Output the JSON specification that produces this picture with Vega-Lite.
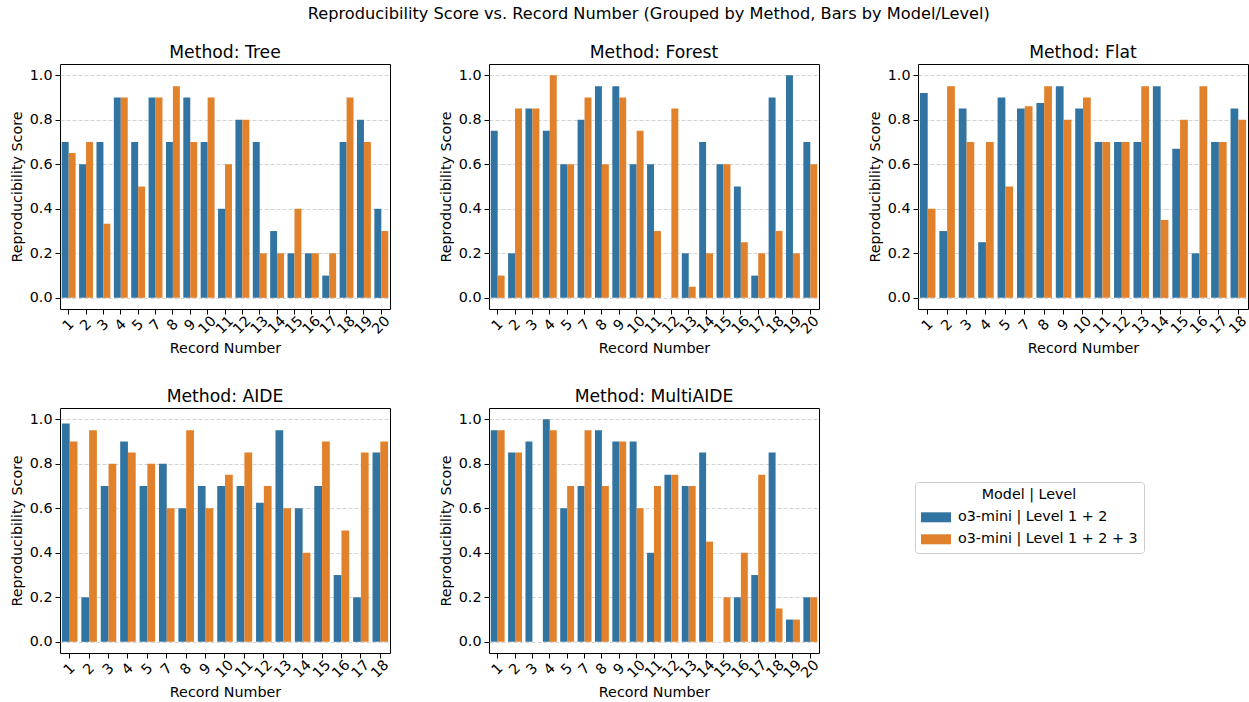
{
  "$schema": "https://vega.github.io/schema/vega-lite/v6.json",
  "padding": {"top": 6, "left": 9, "right": 0, "bottom": 0},
  "title": {"text": "Reproducibility Score vs. Record Number (Grouped by Method, Bars by Model/Level)", "fontSize": 16.2, "offset": 21, "anchor": "middle", "dx": 19},
  "data": {"values": [
    {"m":"Tree","r":1,"l":"o3-mini | Level 1 + 2","s":0.7},{"m":"Tree","r":1,"l":"o3-mini | Level 1 + 2 + 3","s":0.65},
    {"m":"Tree","r":2,"l":"o3-mini | Level 1 + 2","s":0.6},{"m":"Tree","r":2,"l":"o3-mini | Level 1 + 2 + 3","s":0.7},
    {"m":"Tree","r":3,"l":"o3-mini | Level 1 + 2","s":0.7},{"m":"Tree","r":3,"l":"o3-mini | Level 1 + 2 + 3","s":0.333},
    {"m":"Tree","r":4,"l":"o3-mini | Level 1 + 2","s":0.9},{"m":"Tree","r":4,"l":"o3-mini | Level 1 + 2 + 3","s":0.9},
    {"m":"Tree","r":5,"l":"o3-mini | Level 1 + 2","s":0.7},{"m":"Tree","r":5,"l":"o3-mini | Level 1 + 2 + 3","s":0.5},
    {"m":"Tree","r":7,"l":"o3-mini | Level 1 + 2","s":0.9},{"m":"Tree","r":7,"l":"o3-mini | Level 1 + 2 + 3","s":0.9},
    {"m":"Tree","r":8,"l":"o3-mini | Level 1 + 2","s":0.7},{"m":"Tree","r":8,"l":"o3-mini | Level 1 + 2 + 3","s":0.95},
    {"m":"Tree","r":9,"l":"o3-mini | Level 1 + 2","s":0.9},{"m":"Tree","r":9,"l":"o3-mini | Level 1 + 2 + 3","s":0.7},
    {"m":"Tree","r":10,"l":"o3-mini | Level 1 + 2","s":0.7},{"m":"Tree","r":10,"l":"o3-mini | Level 1 + 2 + 3","s":0.9},
    {"m":"Tree","r":11,"l":"o3-mini | Level 1 + 2","s":0.4},{"m":"Tree","r":11,"l":"o3-mini | Level 1 + 2 + 3","s":0.6},
    {"m":"Tree","r":12,"l":"o3-mini | Level 1 + 2","s":0.8},{"m":"Tree","r":12,"l":"o3-mini | Level 1 + 2 + 3","s":0.8},
    {"m":"Tree","r":13,"l":"o3-mini | Level 1 + 2","s":0.7},{"m":"Tree","r":13,"l":"o3-mini | Level 1 + 2 + 3","s":0.2},
    {"m":"Tree","r":14,"l":"o3-mini | Level 1 + 2","s":0.3},{"m":"Tree","r":14,"l":"o3-mini | Level 1 + 2 + 3","s":0.2},
    {"m":"Tree","r":15,"l":"o3-mini | Level 1 + 2","s":0.2},{"m":"Tree","r":15,"l":"o3-mini | Level 1 + 2 + 3","s":0.4},
    {"m":"Tree","r":16,"l":"o3-mini | Level 1 + 2","s":0.2},{"m":"Tree","r":16,"l":"o3-mini | Level 1 + 2 + 3","s":0.2},
    {"m":"Tree","r":17,"l":"o3-mini | Level 1 + 2","s":0.1},{"m":"Tree","r":17,"l":"o3-mini | Level 1 + 2 + 3","s":0.2},
    {"m":"Tree","r":18,"l":"o3-mini | Level 1 + 2","s":0.7},{"m":"Tree","r":18,"l":"o3-mini | Level 1 + 2 + 3","s":0.9},
    {"m":"Tree","r":19,"l":"o3-mini | Level 1 + 2","s":0.8},{"m":"Tree","r":19,"l":"o3-mini | Level 1 + 2 + 3","s":0.7},
    {"m":"Tree","r":20,"l":"o3-mini | Level 1 + 2","s":0.4},{"m":"Tree","r":20,"l":"o3-mini | Level 1 + 2 + 3","s":0.3},

    {"m":"Forest","r":1,"l":"o3-mini | Level 1 + 2","s":0.75},{"m":"Forest","r":1,"l":"o3-mini | Level 1 + 2 + 3","s":0.1},
    {"m":"Forest","r":2,"l":"o3-mini | Level 1 + 2","s":0.2},{"m":"Forest","r":2,"l":"o3-mini | Level 1 + 2 + 3","s":0.85},
    {"m":"Forest","r":3,"l":"o3-mini | Level 1 + 2","s":0.85},{"m":"Forest","r":3,"l":"o3-mini | Level 1 + 2 + 3","s":0.85},
    {"m":"Forest","r":4,"l":"o3-mini | Level 1 + 2","s":0.75},{"m":"Forest","r":4,"l":"o3-mini | Level 1 + 2 + 3","s":1.0},
    {"m":"Forest","r":5,"l":"o3-mini | Level 1 + 2","s":0.6},{"m":"Forest","r":5,"l":"o3-mini | Level 1 + 2 + 3","s":0.6},
    {"m":"Forest","r":7,"l":"o3-mini | Level 1 + 2","s":0.8},{"m":"Forest","r":7,"l":"o3-mini | Level 1 + 2 + 3","s":0.9},
    {"m":"Forest","r":8,"l":"o3-mini | Level 1 + 2","s":0.95},{"m":"Forest","r":8,"l":"o3-mini | Level 1 + 2 + 3","s":0.6},
    {"m":"Forest","r":9,"l":"o3-mini | Level 1 + 2","s":0.95},{"m":"Forest","r":9,"l":"o3-mini | Level 1 + 2 + 3","s":0.9},
    {"m":"Forest","r":10,"l":"o3-mini | Level 1 + 2","s":0.6},{"m":"Forest","r":10,"l":"o3-mini | Level 1 + 2 + 3","s":0.75},
    {"m":"Forest","r":11,"l":"o3-mini | Level 1 + 2","s":0.6},{"m":"Forest","r":11,"l":"o3-mini | Level 1 + 2 + 3","s":0.3},
    {"m":"Forest","r":12,"l":"o3-mini | Level 1 + 2","s":0.0},{"m":"Forest","r":12,"l":"o3-mini | Level 1 + 2 + 3","s":0.85},
    {"m":"Forest","r":13,"l":"o3-mini | Level 1 + 2","s":0.2},{"m":"Forest","r":13,"l":"o3-mini | Level 1 + 2 + 3","s":0.05},
    {"m":"Forest","r":14,"l":"o3-mini | Level 1 + 2","s":0.7},{"m":"Forest","r":14,"l":"o3-mini | Level 1 + 2 + 3","s":0.2},
    {"m":"Forest","r":15,"l":"o3-mini | Level 1 + 2","s":0.6},{"m":"Forest","r":15,"l":"o3-mini | Level 1 + 2 + 3","s":0.6},
    {"m":"Forest","r":16,"l":"o3-mini | Level 1 + 2","s":0.5},{"m":"Forest","r":16,"l":"o3-mini | Level 1 + 2 + 3","s":0.25},
    {"m":"Forest","r":17,"l":"o3-mini | Level 1 + 2","s":0.1},{"m":"Forest","r":17,"l":"o3-mini | Level 1 + 2 + 3","s":0.2},
    {"m":"Forest","r":18,"l":"o3-mini | Level 1 + 2","s":0.9},{"m":"Forest","r":18,"l":"o3-mini | Level 1 + 2 + 3","s":0.3},
    {"m":"Forest","r":19,"l":"o3-mini | Level 1 + 2","s":1.0},{"m":"Forest","r":19,"l":"o3-mini | Level 1 + 2 + 3","s":0.2},
    {"m":"Forest","r":20,"l":"o3-mini | Level 1 + 2","s":0.7},{"m":"Forest","r":20,"l":"o3-mini | Level 1 + 2 + 3","s":0.6},

    {"m":"Flat","r":1,"l":"o3-mini | Level 1 + 2","s":0.92},{"m":"Flat","r":1,"l":"o3-mini | Level 1 + 2 + 3","s":0.4},
    {"m":"Flat","r":2,"l":"o3-mini | Level 1 + 2","s":0.3},{"m":"Flat","r":2,"l":"o3-mini | Level 1 + 2 + 3","s":0.95},
    {"m":"Flat","r":3,"l":"o3-mini | Level 1 + 2","s":0.85},{"m":"Flat","r":3,"l":"o3-mini | Level 1 + 2 + 3","s":0.7},
    {"m":"Flat","r":4,"l":"o3-mini | Level 1 + 2","s":0.25},{"m":"Flat","r":4,"l":"o3-mini | Level 1 + 2 + 3","s":0.7},
    {"m":"Flat","r":5,"l":"o3-mini | Level 1 + 2","s":0.9},{"m":"Flat","r":5,"l":"o3-mini | Level 1 + 2 + 3","s":0.5},
    {"m":"Flat","r":7,"l":"o3-mini | Level 1 + 2","s":0.85},{"m":"Flat","r":7,"l":"o3-mini | Level 1 + 2 + 3","s":0.86},
    {"m":"Flat","r":8,"l":"o3-mini | Level 1 + 2","s":0.875},{"m":"Flat","r":8,"l":"o3-mini | Level 1 + 2 + 3","s":0.95},
    {"m":"Flat","r":9,"l":"o3-mini | Level 1 + 2","s":0.95},{"m":"Flat","r":9,"l":"o3-mini | Level 1 + 2 + 3","s":0.8},
    {"m":"Flat","r":10,"l":"o3-mini | Level 1 + 2","s":0.85},{"m":"Flat","r":10,"l":"o3-mini | Level 1 + 2 + 3","s":0.9},
    {"m":"Flat","r":11,"l":"o3-mini | Level 1 + 2","s":0.7},{"m":"Flat","r":11,"l":"o3-mini | Level 1 + 2 + 3","s":0.7},
    {"m":"Flat","r":12,"l":"o3-mini | Level 1 + 2","s":0.7},{"m":"Flat","r":12,"l":"o3-mini | Level 1 + 2 + 3","s":0.7},
    {"m":"Flat","r":13,"l":"o3-mini | Level 1 + 2","s":0.7},{"m":"Flat","r":13,"l":"o3-mini | Level 1 + 2 + 3","s":0.95},
    {"m":"Flat","r":14,"l":"o3-mini | Level 1 + 2","s":0.95},{"m":"Flat","r":14,"l":"o3-mini | Level 1 + 2 + 3","s":0.35},
    {"m":"Flat","r":15,"l":"o3-mini | Level 1 + 2","s":0.67},{"m":"Flat","r":15,"l":"o3-mini | Level 1 + 2 + 3","s":0.8},
    {"m":"Flat","r":16,"l":"o3-mini | Level 1 + 2","s":0.2},{"m":"Flat","r":16,"l":"o3-mini | Level 1 + 2 + 3","s":0.95},
    {"m":"Flat","r":17,"l":"o3-mini | Level 1 + 2","s":0.7},{"m":"Flat","r":17,"l":"o3-mini | Level 1 + 2 + 3","s":0.7},
    {"m":"Flat","r":18,"l":"o3-mini | Level 1 + 2","s":0.85},{"m":"Flat","r":18,"l":"o3-mini | Level 1 + 2 + 3","s":0.8},

    {"m":"AIDE","r":1,"l":"o3-mini | Level 1 + 2","s":0.98},{"m":"AIDE","r":1,"l":"o3-mini | Level 1 + 2 + 3","s":0.9},
    {"m":"AIDE","r":2,"l":"o3-mini | Level 1 + 2","s":0.2},{"m":"AIDE","r":2,"l":"o3-mini | Level 1 + 2 + 3","s":0.95},
    {"m":"AIDE","r":3,"l":"o3-mini | Level 1 + 2","s":0.7},{"m":"AIDE","r":3,"l":"o3-mini | Level 1 + 2 + 3","s":0.8},
    {"m":"AIDE","r":4,"l":"o3-mini | Level 1 + 2","s":0.9},{"m":"AIDE","r":4,"l":"o3-mini | Level 1 + 2 + 3","s":0.85},
    {"m":"AIDE","r":5,"l":"o3-mini | Level 1 + 2","s":0.7},{"m":"AIDE","r":5,"l":"o3-mini | Level 1 + 2 + 3","s":0.8},
    {"m":"AIDE","r":7,"l":"o3-mini | Level 1 + 2","s":0.8},{"m":"AIDE","r":7,"l":"o3-mini | Level 1 + 2 + 3","s":0.6},
    {"m":"AIDE","r":8,"l":"o3-mini | Level 1 + 2","s":0.6},{"m":"AIDE","r":8,"l":"o3-mini | Level 1 + 2 + 3","s":0.95},
    {"m":"AIDE","r":9,"l":"o3-mini | Level 1 + 2","s":0.7},{"m":"AIDE","r":9,"l":"o3-mini | Level 1 + 2 + 3","s":0.6},
    {"m":"AIDE","r":10,"l":"o3-mini | Level 1 + 2","s":0.7},{"m":"AIDE","r":10,"l":"o3-mini | Level 1 + 2 + 3","s":0.75},
    {"m":"AIDE","r":11,"l":"o3-mini | Level 1 + 2","s":0.7},{"m":"AIDE","r":11,"l":"o3-mini | Level 1 + 2 + 3","s":0.85},
    {"m":"AIDE","r":12,"l":"o3-mini | Level 1 + 2","s":0.625},{"m":"AIDE","r":12,"l":"o3-mini | Level 1 + 2 + 3","s":0.7},
    {"m":"AIDE","r":13,"l":"o3-mini | Level 1 + 2","s":0.95},{"m":"AIDE","r":13,"l":"o3-mini | Level 1 + 2 + 3","s":0.6},
    {"m":"AIDE","r":14,"l":"o3-mini | Level 1 + 2","s":0.6},{"m":"AIDE","r":14,"l":"o3-mini | Level 1 + 2 + 3","s":0.4},
    {"m":"AIDE","r":15,"l":"o3-mini | Level 1 + 2","s":0.7},{"m":"AIDE","r":15,"l":"o3-mini | Level 1 + 2 + 3","s":0.9},
    {"m":"AIDE","r":16,"l":"o3-mini | Level 1 + 2","s":0.3},{"m":"AIDE","r":16,"l":"o3-mini | Level 1 + 2 + 3","s":0.5},
    {"m":"AIDE","r":17,"l":"o3-mini | Level 1 + 2","s":0.2},{"m":"AIDE","r":17,"l":"o3-mini | Level 1 + 2 + 3","s":0.85},
    {"m":"AIDE","r":18,"l":"o3-mini | Level 1 + 2","s":0.85},{"m":"AIDE","r":18,"l":"o3-mini | Level 1 + 2 + 3","s":0.9},

    {"m":"MultiAIDE","r":1,"l":"o3-mini | Level 1 + 2","s":0.95},{"m":"MultiAIDE","r":1,"l":"o3-mini | Level 1 + 2 + 3","s":0.95},
    {"m":"MultiAIDE","r":2,"l":"o3-mini | Level 1 + 2","s":0.85},{"m":"MultiAIDE","r":2,"l":"o3-mini | Level 1 + 2 + 3","s":0.85},
    {"m":"MultiAIDE","r":3,"l":"o3-mini | Level 1 + 2","s":0.9},
    {"m":"MultiAIDE","r":4,"l":"o3-mini | Level 1 + 2","s":1.0},{"m":"MultiAIDE","r":4,"l":"o3-mini | Level 1 + 2 + 3","s":0.95},
    {"m":"MultiAIDE","r":5,"l":"o3-mini | Level 1 + 2","s":0.6},{"m":"MultiAIDE","r":5,"l":"o3-mini | Level 1 + 2 + 3","s":0.7},
    {"m":"MultiAIDE","r":7,"l":"o3-mini | Level 1 + 2","s":0.7},{"m":"MultiAIDE","r":7,"l":"o3-mini | Level 1 + 2 + 3","s":0.95},
    {"m":"MultiAIDE","r":8,"l":"o3-mini | Level 1 + 2","s":0.95},{"m":"MultiAIDE","r":8,"l":"o3-mini | Level 1 + 2 + 3","s":0.7},
    {"m":"MultiAIDE","r":9,"l":"o3-mini | Level 1 + 2","s":0.9},{"m":"MultiAIDE","r":9,"l":"o3-mini | Level 1 + 2 + 3","s":0.9},
    {"m":"MultiAIDE","r":10,"l":"o3-mini | Level 1 + 2","s":0.9},{"m":"MultiAIDE","r":10,"l":"o3-mini | Level 1 + 2 + 3","s":0.6},
    {"m":"MultiAIDE","r":11,"l":"o3-mini | Level 1 + 2","s":0.4},{"m":"MultiAIDE","r":11,"l":"o3-mini | Level 1 + 2 + 3","s":0.7},
    {"m":"MultiAIDE","r":12,"l":"o3-mini | Level 1 + 2","s":0.75},{"m":"MultiAIDE","r":12,"l":"o3-mini | Level 1 + 2 + 3","s":0.75},
    {"m":"MultiAIDE","r":13,"l":"o3-mini | Level 1 + 2","s":0.7},{"m":"MultiAIDE","r":13,"l":"o3-mini | Level 1 + 2 + 3","s":0.7},
    {"m":"MultiAIDE","r":14,"l":"o3-mini | Level 1 + 2","s":0.85},{"m":"MultiAIDE","r":14,"l":"o3-mini | Level 1 + 2 + 3","s":0.45},
    {"m":"MultiAIDE","r":15,"l":"o3-mini | Level 1 + 2","s":0.0},{"m":"MultiAIDE","r":15,"l":"o3-mini | Level 1 + 2 + 3","s":0.2},
    {"m":"MultiAIDE","r":16,"l":"o3-mini | Level 1 + 2","s":0.2},{"m":"MultiAIDE","r":16,"l":"o3-mini | Level 1 + 2 + 3","s":0.4},
    {"m":"MultiAIDE","r":17,"l":"o3-mini | Level 1 + 2","s":0.3},{"m":"MultiAIDE","r":17,"l":"o3-mini | Level 1 + 2 + 3","s":0.75},
    {"m":"MultiAIDE","r":18,"l":"o3-mini | Level 1 + 2","s":0.85},{"m":"MultiAIDE","r":18,"l":"o3-mini | Level 1 + 2 + 3","s":0.15},
    {"m":"MultiAIDE","r":19,"l":"o3-mini | Level 1 + 2","s":0.1},{"m":"MultiAIDE","r":19,"l":"o3-mini | Level 1 + 2 + 3","s":0.1},
    {"m":"MultiAIDE","r":20,"l":"o3-mini | Level 1 + 2","s":0.2},{"m":"MultiAIDE","r":20,"l":"o3-mini | Level 1 + 2 + 3","s":0.2}
  ]},
  "columns": 3,
  "spacing": 99,
  "bounds": "flush",
  "resolve": {"scale": {"x": "independent", "xOffset": "independent"}, "axis": {"x": "independent", "y": "independent"}},
  "concat": [
    {"title": "Method: Tree", "width": 330, "height": 245, "transform": [{"filter": "datum.m === 'Tree'"}], "mark": "bar",
     "encoding": {
       "x": {"field": "r", "type": "ordinal", "title": "Record Number", "scale": {"paddingInner": 0.2, "paddingOuter": 0.1}},
       "xOffset": {"field": "l", "type": "nominal"},
       "y": {"field": "s", "type": "quantitative", "title": "Reproducibility Score", "scale": {"domain": [-0.05, 1.05], "nice": false, "zero": false}, "axis": {"values": [0, 0.2, 0.4, 0.6, 0.8, 1.0], "format": ".1f"}},
       "y2": {"datum": 0},
       "color": {"field": "l", "type": "nominal", "title": "Model | Level", "scale": {"range": ["#3274a1", "#e1812c"]}}
     }},
    {"title": "Method: Forest", "width": 330, "height": 245, "transform": [{"filter": "datum.m === 'Forest'"}], "mark": "bar",
     "encoding": {
       "x": {"field": "r", "type": "ordinal", "title": "Record Number", "scale": {"paddingInner": 0.2, "paddingOuter": 0.1}},
       "xOffset": {"field": "l", "type": "nominal"},
       "y": {"field": "s", "type": "quantitative", "title": "Reproducibility Score", "scale": {"domain": [-0.05, 1.05], "nice": false, "zero": false}, "axis": {"values": [0, 0.2, 0.4, 0.6, 0.8, 1.0], "format": ".1f"}},
       "y2": {"datum": 0},
       "color": {"field": "l", "type": "nominal", "title": "Model | Level", "scale": {"range": ["#3274a1", "#e1812c"]}}
     }},
    {"title": "Method: Flat", "width": 330, "height": 245, "transform": [{"filter": "datum.m === 'Flat'"}], "mark": "bar",
     "encoding": {
       "x": {"field": "r", "type": "ordinal", "title": "Record Number", "scale": {"paddingInner": 0.2, "paddingOuter": 0.1}},
       "xOffset": {"field": "l", "type": "nominal"},
       "y": {"field": "s", "type": "quantitative", "title": "Reproducibility Score", "scale": {"domain": [-0.05, 1.05], "nice": false, "zero": false}, "axis": {"values": [0, 0.2, 0.4, 0.6, 0.8, 1.0], "format": ".1f"}},
       "y2": {"datum": 0},
       "color": {"field": "l", "type": "nominal", "title": "Model | Level", "scale": {"range": ["#3274a1", "#e1812c"]}}
     }},
    {"title": "Method: AIDE", "width": 330, "height": 245, "transform": [{"filter": "datum.m === 'AIDE'"}], "mark": "bar",
     "encoding": {
       "x": {"field": "r", "type": "ordinal", "title": "Record Number", "scale": {"paddingInner": 0.2, "paddingOuter": 0.1}},
       "xOffset": {"field": "l", "type": "nominal"},
       "y": {"field": "s", "type": "quantitative", "title": "Reproducibility Score", "scale": {"domain": [-0.05, 1.05], "nice": false, "zero": false}, "axis": {"values": [0, 0.2, 0.4, 0.6, 0.8, 1.0], "format": ".1f"}},
       "y2": {"datum": 0},
       "color": {"field": "l", "type": "nominal", "title": "Model | Level", "scale": {"range": ["#3274a1", "#e1812c"]}}
     }},
    {"title": "Method: MultiAIDE", "width": 330, "height": 245, "transform": [{"filter": "datum.m === 'MultiAIDE'"}], "mark": "bar",
     "encoding": {
       "x": {"field": "r", "type": "ordinal", "title": "Record Number", "scale": {"paddingInner": 0.2, "paddingOuter": 0.1}},
       "xOffset": {"field": "l", "type": "nominal"},
       "y": {"field": "s", "type": "quantitative", "title": "Reproducibility Score", "scale": {"domain": [-0.05, 1.05], "nice": false, "zero": false}, "axis": {"values": [0, 0.2, 0.4, 0.6, 0.8, 1.0], "format": ".1f"}},
       "y2": {"datum": 0},
       "color": {"field": "l", "type": "nominal", "title": "Model | Level", "scale": {"range": ["#3274a1", "#e1812c"]}}
     }}
  ],
  "config": {
    "font": "DejaVu Sans",
    "background": "white",
    "view": {"stroke": "black", "strokeWidth": 1},
    "axis": {"domain": false, "tickColor": "black", "tickSize": 5, "tickWidth": 1, "labelColor": "black", "labelFontSize": 14.3, "titleFontSize": 14.3, "titleFontWeight": "normal", "titleColor": "black", "labelOverlap": false},
    "axisY": {"grid": true, "gridColor": "#c8c8c8", "gridDash": [4, 2], "gridWidth": 0.8, "labelPadding": 3, "titlePadding": 5},
    "axisX": {"grid": false, "labelAngle": -45, "labelAlign": "center", "labelBaseline": "middle", "labelPadding": 11, "titlePadding": 5},
    "title": {"fontSize": 17.2, "fontWeight": "normal", "color": "black", "anchor": "middle", "offset": 3},
    "legend": {"orient": "none", "legendX": 855, "legendY": 418, "strokeColor": "#cccccc", "fillColor": "white", "cornerRadius": 3, "padding": 6, "titleFontSize": 14.3, "titleFontWeight": "normal", "titleColor": "black", "titleAnchor": "middle", "labelFontSize": 14.3, "labelColor": "black", "labelLimit": 0, "symbolType": "M-1.5,-0.5H1.5V0.5H-1.5Z", "symbolSize": 400, "symbolStrokeWidth": 0, "symbolOpacity": 1, "labelOffset": 12, "rowPadding": 4, "symbolOffset": 5}
  }
}
